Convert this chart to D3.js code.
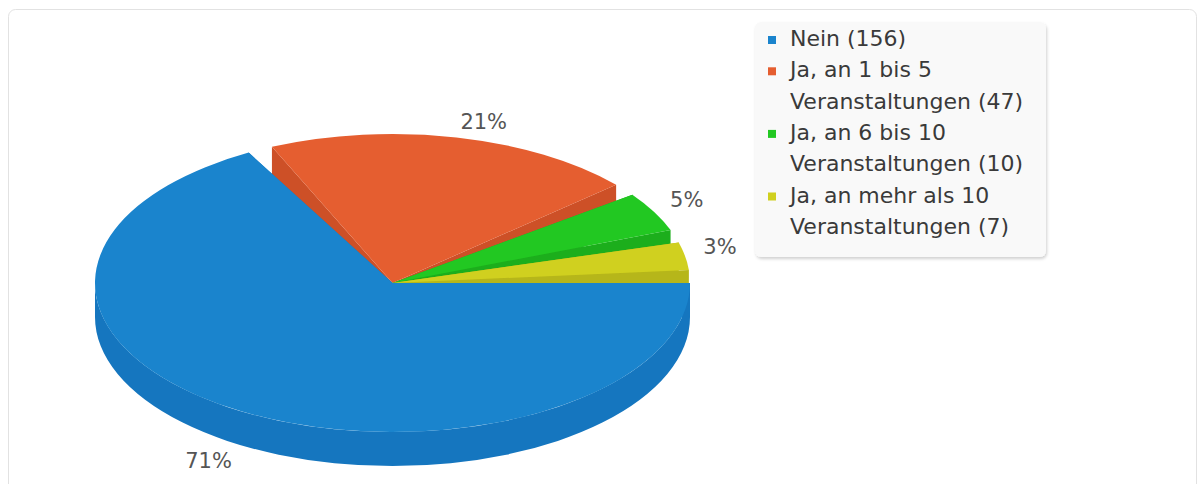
<!DOCTYPE html>
<html>
<head>
<meta charset="utf-8">
<script src="https://cdn.jsdelivr.net/npm/d3@7"></script>
<style>
  body { margin: 0; background: #ffffff; }
  svg { display: block; font-family: "DejaVu Sans", sans-serif; }
</style>
</head>
<body>
<div id="chart"></div>
<script>
const w = 1202;
const h = 484;

// data
const categories = ["Nein", "Ja, an 1 bis 5 Veranstaltungen", "Ja, an 6 bis 10 Veranstaltungen", "Ja, an mehr als 10 Veranstaltungen"];
const counts = [156, 47, 10, 7];
const topColors = ["#1a84cd", "#e55e30", "#22c822", "#d0d01f"];
const sideColors = ["#1576bf", "#cd5027", "#1cae1c", "#b6b61a"];

let svg = d3.select("div#chart").append("svg")
    .attr("width", w).attr("height", h)
    .attr("viewBox", "0 0 " + w + " " + h);

// outer frame
svg.append("rect")
    .attr("x", 8.5).attr("y", 9.5)
    .attr("width", 1188).attr("height", 520)
    .attr("rx", 7)
    .style("fill", "#ffffff").style("stroke", "#e2e2e2");

// pie geometry
const cx = 392.5, cy = 283;
const rx = 297.5, ry = 149;
const depth = 34;
const pad = 5 * Math.PI / 180;

const pie = d3.pie().sort(null).value(d => d)
    .padAngle(pad)
    .startAngle(Math.PI / 2 - pad / 2)
    .endAngle(Math.PI / 2 - pad / 2 + 2 * Math.PI);

const total = d3.sum(counts);
const slices = pie(counts).map((d, i) => {
    const t0 = d.startAngle + pad / 2 - Math.PI / 2;
    const t1 = d.endAngle - pad / 2 - Math.PI / 2;
    return { i: i, value: d.value, t0: t0, t1: t1, mid: (t0 + t1) / 2 };
});

const P = (t, z) => [cx + rx * Math.cos(t), cy + ry * Math.sin(t) + z];

const topPath = (s) => {
    const a = P(s.t0, 0), b = P(s.t1, 0);
    const large = (s.t1 - s.t0) > Math.PI ? 1 : 0;
    return "M" + cx + "," + cy + "L" + a + "A" + rx + "," + ry + " 0 " + large + " 1 " + b + "Z";
};

const edgePath = (t) => {
    const a = P(t, 0), b = P(t, depth);
    return "M" + cx + "," + cy + "L" + a + "L" + b + "L" + cx + "," + (cy + depth) + "Z";
};

const outerPaths = (s) => {
    let out = [];
    [[0, Math.PI], [2 * Math.PI, 3 * Math.PI]].forEach(r => {
        const a0 = Math.max(s.t0, r[0]), a1 = Math.min(s.t1, r[1]);
        if (a1 > a0) {
            const p0 = P(a0, 0), p1 = P(a1, 0), q1 = P(a1, depth), q0 = P(a0, depth);
            out.push("M" + p0 + "A" + rx + "," + ry + " 0 0 1 " + p1 + "L" + q1 +
                "A" + rx + "," + ry + " 0 0 0 " + q0 + "Z");
        }
    });
    return out;
};

// back to front
const order = slices.slice().sort((a, b) => Math.sin(a.mid) - Math.sin(b.mid));
const pieG = svg.append("g");

order.forEach(s => {
    const g = pieG.append("g");
    g.append("path").attr("d", edgePath(s.t0)).style("fill", sideColors[s.i]);
    g.append("path").attr("d", edgePath(s.t1)).style("fill", sideColors[s.i]);
    outerPaths(s).forEach(d => {
        g.append("path").attr("d", d).style("fill", sideColors[s.i]);
    });
    g.append("path").attr("d", topPath(s)).style("fill", topColors[s.i]);
});

// percent labels
const lrx = 316, lry = 158;
svg.append("g").selectAll("text")
    .data(slices)
    .join("text")
    .attr("x", d => cx + lrx * Math.cos(d.mid))
    .attr("y", d => {
        const y = cy + lry * Math.sin(d.mid);
        return Math.sin(d.mid) > 0 ? y + depth + 15 : y;
    })
    .attr("text-anchor", d => Math.cos(d.mid) >= 0 ? "start" : "end")
    .style("font-size", "21px")
    .style("fill", "#555555")
    .text(d => Math.round(d.value / total * 100) + "%");

// legend
const defs = svg.append("defs");
const shadow = defs.append("filter").attr("id", "shadow")
    .attr("x", "-5%").attr("y", "-5%").attr("width", "115%").attr("height", "115%");
shadow.append("feDropShadow").attr("dx", 1).attr("dy", 2).attr("stdDeviation", 1.5)
    .attr("flood-color", "#000000").attr("flood-opacity", 0.18);

const legend = svg.append("g");
legend.append("rect")
    .attr("x", 755).attr("y", 22)
    .attr("width", 291).attr("height", 235)
    .attr("rx", 6)
    .style("fill", "#f9f9f9")
    .style("filter", "url(#shadow)");

const lineH = 31.3;
const maxW = 250;
const measure = svg.append("text").style("font-size", "22px").attr("x", -999).attr("y", -999);
const wrap = (str) => {
    const words = str.split(" ");
    let lines = [], cur = "";
    words.forEach(wd => {
        const test = cur ? cur + " " + wd : wd;
        measure.text(test);
        if (cur && measure.node().getComputedTextLength() > maxW) {
            lines.push(cur);
            cur = wd;
        } else {
            cur = test;
        }
    });
    lines.push(cur);
    return lines;
};

let lineIdx = 0;
categories.forEach((c, i) => {
    const lines = wrap(c + " (" + counts[i] + ")");
    const base = 46 + lineIdx * lineH;
    legend.append("rect")
        .attr("x", 768).attr("y", base - 10)
        .attr("width", 8).attr("height", 8)
        .style("fill", topColors[i]);
    lines.forEach((ln, k) => {
        legend.append("text")
            .attr("x", 790).attr("y", base + k * lineH)
            .style("font-size", "22px")
            .style("fill", "#3a3a3a")
            .text(ln);
    });
    lineIdx += lines.length;
});
measure.remove();
</script>
</body>
</html>
